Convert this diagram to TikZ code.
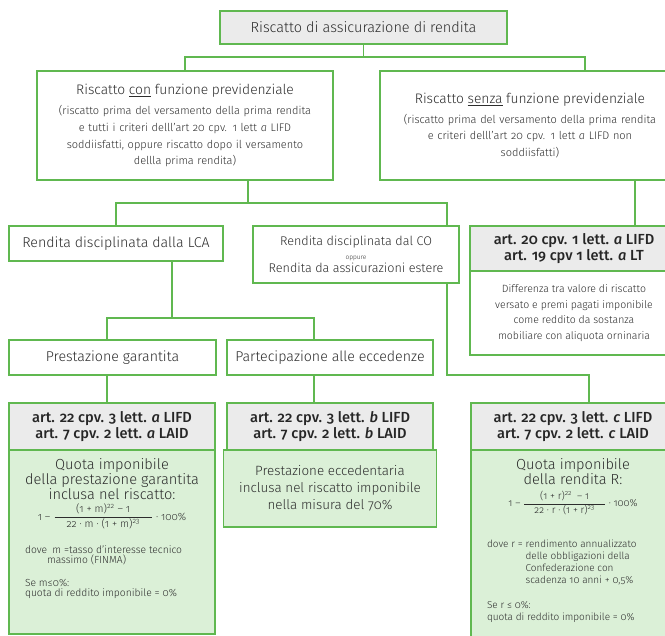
\documentclass[tikz,border=0pt]{standalone}
\usepackage{amsmath}
\usepackage{fontspec}
\setmainfont{Fira Sans}[Numbers=OldStyle, UprightFont={* Light}, ItalicFont={* Light Italic}, BoldFont={* Medium}, BoldItalicFont={* Medium Italic}]
\usetikzlibrary{positioning}
\definecolor{boxgreen}{RGB}{96,184,80}
\definecolor{headgrey}{RGB}{235,235,235}
\definecolor{bodygreen}{RGB}{219,240,215}
\definecolor{txtgrey}{RGB}{45,45,45}
\newcommand{\titletxt}{\fontsize{13.8}{16}\selectfont}
\newcommand{\subtxt}{\fontsize{11}{16.6}\selectfont}
\newcommand{\bigtxt}{\fontsize{14.2}{16}\selectfont}
\tikzset{
  box/.style={rectangle, draw=boxgreen, line width=1.2pt, fill=white, text=txtgrey, align=center, inner sep=0pt, outer sep=0pt},
  headbox/.style={box, fill=headgrey, text=black!85, font=\fontsize{14.6}{15.5}\selectfont\bfseries},
  bodybox/.style={box, fill=bodygreen, inner xsep=16pt},
  link/.style={draw=boxgreen, line width=1.2pt}
}
\begin{document}
\begin{tikzpicture}[x=1pt, y=-1pt, node distance=0pt]
\useasboundingbox (0,0) rectangle (665,636);
\clip (0,0) rectangle (665,636);
% first level
\node[box, fill=headgrey, minimum width=287pt, minimum height=33pt, font=\fontsize{14.5}{16}\selectfont] (top) at (363.5,27.5) {Riscatto di assicurazione di rendita};
\node[box, minimum width=296pt, minimum height=109pt, text width=290pt, font=\subtxt] (con) at (185,125.5)
  {{\titletxt Riscatto \underline{con} funzione previdenziale\par}\vspace{4pt}
   (riscatto prima del versamento della prima rendita\\
   e tutti i criteri delll’art 20 cpv. 1 lett \textit{a} LIFD\\
   soddiisfatti, oppure riscatto dopo il versamento\\
   dellla prima rendita)};
\node[box, minimum width=300pt, minimum height=109pt, text width=290pt, font=\subtxt] (senza) at (530,125.5)
  {{\titletxt Riscatto \underline{senza} funzione previdenziale\par}\vspace{3pt}
   (riscatto prima del versamento della prima rendita\\
   e criteri delll’art 20 cpv. 1 lett \textit{a} LIFD non\\
   soddiisfatti)};
% second level
\node[box, minimum width=214pt, minimum height=35pt, font=\bigtxt] (lca) at (116,243.5) {Rendita disciplinata dalla LCA};
\node[box, minimum width=206pt, minimum height=57pt, font=\fontsize{12.6}{13.5}\selectfont] (co) at (356,254.5)
  {Rendita disciplinata dal CO\\{\fontsize{6.5}{7}\selectfont oppure}\\Rendita da assicurazioni estere};
\node[headbox, minimum width=208pt, minimum height=45pt] (art20) at (574,248.5)
  {art. 20 cpv. 1 lett. \textit{a} LIFD\\art. 19 cpv 1 lett. \textit{a} LT};
\node[box, minimum width=208pt, minimum height=84pt, font=\fontsize{10.5}{15.5}\selectfont, below=of art20] (diff)
  {Differenza tra valore di riscatto\\versato e premi pagati imponibile\\come reddito da sostanza\\mobiliare con aliquota orninaria};
% third level
\node[box, minimum width=207pt, minimum height=35pt, font=\bigtxt] (pg) at (112.5,357.5) {Prestazione garantita};
\node[box, minimum width=206pt, minimum height=35pt, font=\bigtxt] (pe) at (330,357.5) {Partecipazione alle eccedenze};
% law boxes
\node[headbox, minimum width=206pt, minimum height=47pt] (headA) at (112,426.5)
  {art. 22 cpv. 3 lett. \textit{a} LIFD\\art. 7 cpv. 2 lett. \textit{a} LAID};
\node[bodybox, minimum width=206pt, below=of headA] (quotaA)
  {\parbox[t][184pt][t]{174pt}{\centering\vspace*{9pt}
   {\fontsize{14.6}{13.8}\selectfont Quota imponibile\\della prestazione garantita\\inclusa nel riscatto:\par}
   \vspace{3pt}
   {\fontsize{10.5}{11}\selectfont $\displaystyle\mbox{1 – }\frac{\mbox{\hspace{12pt}(1 + m)\textsuperscript{22} – 1\hspace{12pt}}}{\mbox{\hspace{12pt}22 · m · (1 + m)\textsuperscript{23}\hspace{12pt}}}\mbox{ · 100\%}$\par}
   \vspace{15pt}
   \raggedright\fontsize{10.3}{10.5}\selectfont
   dove\enspace m =tasso d’interesse tecnico\\
   \hspace*{22pt}massimo (FINMA)\par\vspace{12pt}
   Se m≤0\%:\\
   quota di reddito imponibile = 0\%\par}};
\node[headbox, minimum width=206pt, minimum height=47pt] (headB) at (330,426.5)
  {art. 22 cpv. 3 lett. \textit{b} LIFD\\art. 7 cpv. 2 lett. \textit{b} LAID};
\node[bodybox, minimum width=206pt, minimum height=77pt, font=\fontsize{13.4}{17}\selectfont, below=of headB] (quotaB)
  {Prestazione eccedentaria\\inclusa nel riscatto imponibile\\nella misura del 70\%};
\node[headbox, minimum width=204pt, minimum height=47pt] (headC) at (573,426.5)
  {art. 22 cpv. 3 lett. \textit{c} LIFD\\art. 7 cpv. 2 lett. \textit{c} LAID};
\node[bodybox, minimum width=204pt, below=of headC] (quotaC)
  {\parbox[t][200pt][t]{172pt}{\centering\vspace*{9pt}
   {\fontsize{14.6}{15}\selectfont Quota imponibile\\della rendita R:\par}
   \vspace{5pt}
   {\fontsize{10}{11}\selectfont $\displaystyle\mbox{1 – }\frac{\mbox{\hspace{10pt}(1 + r)\textsuperscript{22}\enspace – 1\hspace{10pt}}}{\mbox{\hspace{10pt}22 · r · (1 + r)\textsuperscript{23}\hspace{10pt}}}\mbox{ · 100\%}$\par}
   \vspace{23pt}
   \raggedright\fontsize{10}{12}\selectfont
   \begin{tabular}{@{}l@{\ }l@{}}
   dove r = & rendimento annualizzato\\
            & delle obbligazioni della\\
            & Confederazione con\\
            & scadenza 10 anni + 0,5\%
   \end{tabular}\par\vspace{14pt}
   Se r ≤ 0\%:\\
   quota di reddito imponibile = 0\%\par}};
% connectors
\draw[link] (top.south) -- ++(0,13) coordinate (j1);
\draw[link] (con.north) |- (j1) -| ([xshift=205pt]senza.north west);
\draw[link] ([xshift=211pt]con.south west) -- ++(0,23) coordinate (j2);
\draw[link] (lca.north) |- (j2) -| ([xshift=-12pt]co.north east);
\draw[link] ([xshift=255pt]senza.south west) -- ([xshift=165pt]art20.north west);
\draw[link] ([xshift=163pt]lca.south west) -- ++(0,57) coordinate (j3);
\draw[link] ([xshift=98pt]pg.north west) |- (j3) -| ([xshift=87pt]pe.north west);
\draw[link] ([xshift=98pt]pg.south west) -- ([xshift=98pt]headA.north west);
\draw[link] ([xshift=87pt]pe.south west) -- ([xshift=87pt]headB.north west);
\draw[link] ([xshift=-12pt]co.south east) -- ++(0,92) coordinate (j4) -| ([xshift=118pt]headC.north west);
\end{tikzpicture}
\end{document}
